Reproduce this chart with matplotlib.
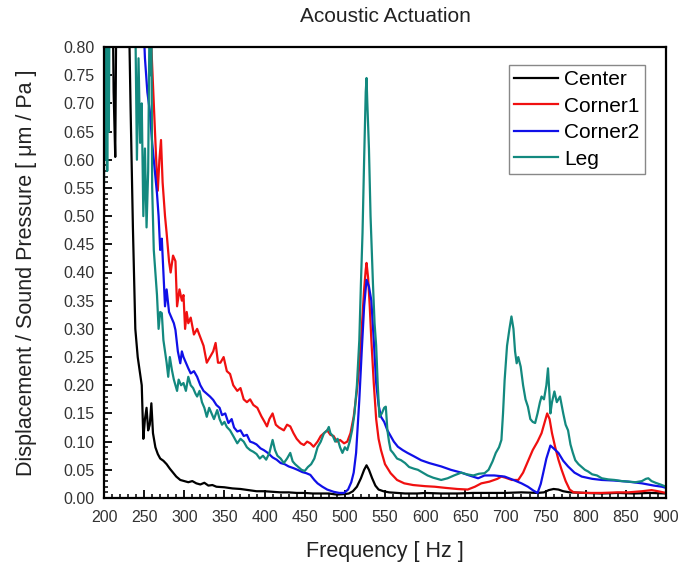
import matplotlib
matplotlib.use("Agg")
import matplotlib.pyplot as plt
from matplotlib.ticker import MultipleLocator

plt.rcParams['font.family'] = ['Liberation Sans', 'DejaVu Sans']

# ---------------- data ----------------
center_f = [200, 205, 210, 212, 214, 216, 220, 226, 230, 233, 236, 239, 242, 245, 247, 249, 251, 253, 255, 257,
            259, 261, 264, 267, 270, 274, 278, 282, 286, 290, 295, 300, 305, 310, 315, 320, 325, 330, 335, 340,
            350, 360, 370, 380, 390, 400, 410, 420, 430, 440, 450, 460, 470, 480, 490, 500, 505, 510, 515, 520,
            524, 527, 530, 534, 538, 542, 548, 555, 565, 575, 590, 600, 620, 640, 660, 680, 700, 720, 740, 748,
            754, 760, 766, 772, 780, 800, 820, 840, 860, 880, 900]
center_v = [1.0, 1.0, 1.0, 0.72, 0.605, 1.0, 1.0, 1.0, 0.95, 0.70, 0.48, 0.30, 0.25, 0.22, 0.20, 0.105, 0.14, 0.16, 0.12, 0.13,
            0.168, 0.115, 0.09, 0.078, 0.07, 0.066, 0.06, 0.052, 0.045, 0.038, 0.032, 0.03, 0.028, 0.03, 0.026, 0.024, 0.027, 0.022, 0.023, 0.02,
            0.019, 0.017, 0.016, 0.014, 0.012, 0.012, 0.011, 0.010, 0.010, 0.009, 0.009, 0.008, 0.008, 0.008, 0.006, 0.007, 0.008, 0.012, 0.02, 0.035,
            0.05, 0.058, 0.05, 0.035, 0.022, 0.015, 0.012, 0.01, 0.009, 0.008, 0.008, 0.009, 0.008, 0.008, 0.009, 0.009, 0.009, 0.010, 0.009, 0.010,
            0.014, 0.016, 0.015, 0.012, 0.010, 0.009, 0.008, 0.009, 0.008, 0.009, 0.008]

corner1_f = [250, 256, 259, 262, 265, 267, 269, 271, 273, 276, 278, 281, 283, 286, 289, 291, 294, 297, 299, 301,
             303, 305, 308, 312, 316, 320, 324, 328, 332, 336, 339, 342, 345, 349, 353, 357, 361, 366, 370, 374,
             378, 382, 386, 391, 396, 400, 403, 406, 410, 414, 418, 424, 428, 432, 436, 440, 445, 449, 453, 457,
             461, 466, 470, 474, 478, 482, 486, 490, 494, 499, 503, 507, 511, 515, 518, 521, 524, 526, 527, 529,
             531, 533, 536, 539, 542, 545, 550, 557, 565, 574, 585, 600, 612, 625, 640, 653, 662, 670, 680, 690,
             695, 700, 708, 716, 722, 728, 734, 740, 745, 749, 752, 755, 758, 762, 766, 770, 775, 780, 785, 800,
             820, 840, 853, 870, 882, 890, 900]
corner1_v = [1.0, 0.9, 0.8, 0.7, 0.6, 0.545, 0.6, 0.635, 0.56, 0.5, 0.47, 0.42, 0.40, 0.43, 0.42, 0.34, 0.37, 0.35, 0.36, 0.30,
             0.33, 0.31, 0.32, 0.29, 0.30, 0.285, 0.27, 0.24, 0.25, 0.26, 0.275, 0.24, 0.24, 0.25, 0.225, 0.22, 0.20, 0.19, 0.195, 0.175,
             0.17, 0.175, 0.165, 0.16, 0.145, 0.135, 0.127, 0.14, 0.15, 0.13, 0.125, 0.12, 0.13, 0.127, 0.115, 0.105, 0.097, 0.094, 0.10, 0.097,
             0.091, 0.10, 0.11, 0.115, 0.12, 0.112, 0.11, 0.10, 0.103, 0.097, 0.10, 0.115, 0.144, 0.19, 0.235, 0.30, 0.37, 0.405, 0.417, 0.39,
             0.34, 0.28, 0.204, 0.14, 0.105, 0.085, 0.06, 0.044, 0.032, 0.026, 0.023, 0.021, 0.02, 0.018, 0.016, 0.015, 0.02, 0.026, 0.029, 0.034,
             0.038, 0.036, 0.032, 0.032, 0.045, 0.065, 0.085, 0.10, 0.115, 0.135, 0.15, 0.14, 0.115, 0.09, 0.068, 0.05, 0.03, 0.015, 0.01, 0.009,
             0.009, 0.01, 0.01, 0.012, 0.014, 0.012, 0.009]

corner2_f = [240, 249, 251, 254, 257, 260, 262, 264, 266, 268, 270, 272, 274, 276, 278, 281, 284, 287, 289, 292,
             295, 297, 299, 302, 305, 308, 312, 316, 320, 324, 328, 332, 336, 340, 344, 347, 351, 355, 359, 362,
             366, 370, 374, 378, 382, 386, 390, 395, 399, 404, 410, 415, 420, 425, 430, 436, 441, 447, 452, 457,
             462, 466, 472, 478, 486, 493, 499, 504, 508, 511, 514, 518, 521, 524, 527, 530, 533, 536, 539, 542,
             545, 549, 553, 557, 561, 566, 572, 578, 586, 595, 605, 620, 632, 645, 655, 666, 674, 686, 699, 710,
             720, 728, 735, 740, 744, 747, 751, 756, 760, 766, 772, 778, 786, 795, 808, 820, 835, 853, 870, 885,
             895, 900]
corner2_v = [1.0, 0.85, 0.78, 0.72, 0.687, 0.63, 0.60, 0.57, 0.54, 0.50, 0.44, 0.46, 0.40, 0.34, 0.37, 0.33, 0.32, 0.31, 0.298, 0.26,
             0.239, 0.26, 0.25, 0.24, 0.23, 0.221, 0.225, 0.215, 0.20, 0.19, 0.185, 0.18, 0.174, 0.165, 0.16, 0.147, 0.15, 0.133, 0.14, 0.125,
             0.118, 0.12, 0.11, 0.112, 0.10, 0.098, 0.095, 0.088, 0.085, 0.08, 0.072, 0.068, 0.062, 0.06, 0.056, 0.053, 0.05, 0.046, 0.044, 0.041,
             0.032, 0.026, 0.02, 0.015, 0.011, 0.009, 0.009, 0.015, 0.028, 0.045, 0.08, 0.174, 0.26, 0.34, 0.387, 0.375, 0.35, 0.28, 0.204, 0.165,
             0.144, 0.135, 0.12, 0.11, 0.10, 0.091, 0.085, 0.08, 0.074, 0.067, 0.062, 0.056, 0.05, 0.045, 0.04, 0.035, 0.04, 0.04, 0.038, 0.032,
             0.026, 0.02, 0.013, 0.009, 0.025, 0.044, 0.07, 0.093, 0.088, 0.08, 0.066, 0.056, 0.045, 0.038, 0.034, 0.032, 0.031, 0.029, 0.026, 0.022,
             0.02, 0.018]

leg_f = [200, 201, 202, 203, 204, 205, 206, 207, 209, 236, 239, 241, 243, 245, 247, 249, 251, 253, 255, 257,
         258, 259, 260, 262, 264, 266, 268, 270, 272, 274, 276, 278, 280, 282, 284.6, 287, 289, 291, 293, 296,
         299, 302, 305, 308, 311, 314, 316, 319, 322, 325, 328, 331, 334, 337, 341, 344, 347, 350, 353, 357,
         361, 366, 370, 374, 378, 382, 386, 390, 394, 398, 402, 406, 410, 413, 416, 420, 424, 428, 432, 435,
         438, 442, 446, 450, 454, 458, 462, 466, 470, 474, 478, 480, 482, 485, 488, 491, 494, 497, 500, 503,
         506, 509, 512, 515, 518, 520, 522, 524, 526, 527, 528, 530, 532, 535, 537, 539, 541, 543, 546, 549,
         551, 553, 555, 557, 560, 565, 570, 575, 580, 586, 591, 597, 603, 610, 620, 628, 636, 645, 652, 660,
         667, 674, 679, 684, 688, 692, 695, 697, 699, 702, 705, 707.5, 710, 712, 714, 716, 719, 722, 725, 728,
         731, 734, 737, 740, 743, 745, 748, 751, 753, 755, 756, 758, 761, 764, 768, 772, 775, 778, 781, 784,
         787, 791, 795, 799, 803, 808, 814, 820, 828, 836, 845, 853, 862, 870, 875, 878, 882, 887, 893, 900]
leg_v = [0.56, 0.85, 0.60, 0.90, 0.58, 0.95, 0.65, 0.90, 1.0, 1.0, 0.85, 0.60, 0.78, 0.63, 0.70, 0.50, 0.62, 0.48, 0.58, 0.90,
         0.75, 0.85, 0.55, 0.44, 0.40, 0.36, 0.30, 0.33, 0.328, 0.28, 0.26, 0.24, 0.215, 0.25, 0.227, 0.21, 0.20, 0.19, 0.21, 0.20,
         0.204, 0.19, 0.215, 0.20, 0.195, 0.185, 0.18, 0.19, 0.17, 0.16, 0.144, 0.16, 0.15, 0.14, 0.156, 0.14, 0.13, 0.135, 0.126, 0.12,
         0.11, 0.097, 0.105, 0.10, 0.09, 0.085, 0.082, 0.078, 0.07, 0.075, 0.068, 0.08, 0.103, 0.085, 0.075, 0.07, 0.062, 0.07, 0.08, 0.065,
         0.06, 0.055, 0.05, 0.048, 0.055, 0.06, 0.07, 0.09, 0.10, 0.115, 0.12, 0.126, 0.115, 0.11, 0.10, 0.105, 0.09, 0.08, 0.09, 0.085,
         0.10, 0.12, 0.15, 0.20, 0.28, 0.38, 0.47, 0.60, 0.72, 0.745, 0.70, 0.62, 0.50, 0.38, 0.31, 0.27, 0.20, 0.144, 0.15, 0.16,
         0.162, 0.12, 0.10, 0.085, 0.08, 0.07, 0.067, 0.062, 0.055, 0.052, 0.05, 0.045, 0.04, 0.036, 0.032, 0.035, 0.04, 0.045, 0.042, 0.04,
         0.043, 0.044, 0.05, 0.065, 0.08, 0.09, 0.103, 0.15, 0.209, 0.27, 0.30, 0.322, 0.30, 0.26, 0.239, 0.25, 0.233, 0.20, 0.175, 0.162,
         0.14, 0.135, 0.133, 0.15, 0.17, 0.18, 0.175, 0.20, 0.23, 0.18, 0.15, 0.17, 0.189, 0.17, 0.18, 0.15, 0.13, 0.12, 0.095, 0.08,
         0.067, 0.06, 0.055, 0.05, 0.047, 0.042, 0.04, 0.035, 0.033, 0.032, 0.03, 0.029, 0.028, 0.03, 0.034, 0.035, 0.03, 0.027, 0.024, 0.02]

series_names = ["Center", "Corner1", "Corner2", "Leg"]
series_colors = ["#000000", "#f01010", "#1010e8", "#13897f"]

title_text = "Acoustic Actuation"
xlabel_text = "Frequency [ Hz ]"
ylabel_text = "Displacement / Sound Pressure [ \u03bcm / Pa ]"

# ---------------- plot ----------------
fig = plt.figure(figsize=(6.81, 5.66), dpi=100)
ax = fig.add_axes([104/681, 1-498/566, (666-104)/681, (498-47)/566])

data = [(center_f, center_v), (corner1_f, corner1_v), (corner2_f, corner2_v), (leg_f, leg_v)]
for (fx, fy), name, col in zip(data, series_names, series_colors):
    ax.plot(fx, fy, color=col, lw=1.6, label=name)

ax.set_xlim(200, 900)
ax.set_ylim(0, 0.8)
ax.xaxis.set_major_locator(MultipleLocator(50))
ax.xaxis.set_minor_locator(MultipleLocator(10))
ax.yaxis.set_major_locator(MultipleLocator(0.05))
ax.yaxis.set_minor_locator(MultipleLocator(0.01))
ax.yaxis.set_major_formatter(matplotlib.ticker.FormatStrFormatter('%.2f'))

ax.tick_params(which='major', direction='in', length=6, width=1.3, labelsize=11.5, color='black')
ax.tick_params(which='minor', direction='in', length=3, width=1.1, color='black')
ax.tick_params(axis='x', which='major', pad=9)
ax.tick_params(axis='y', which='major', pad=7)
ax.tick_params(labelcolor='#333333')
for sp in ax.spines.values():
    sp.set_linewidth(1.6)

ax.set_title(title_text, fontsize=15, pad=18, color='#222222')
ax.set_xlabel(xlabel_text, fontsize=15.5, labelpad=11, color='#222222')
ax.set_ylabel(ylabel_text, fontsize=15.5, labelpad=19, color='#222222')

leg = ax.legend(loc='upper right', bbox_to_anchor=((645-104)/562, (498-65)/451),
                borderaxespad=0, fontsize=15, frameon=True, fancybox=False,
                edgecolor='#888888', framealpha=1, handlelength=2.1, handletextpad=0.3,
                labelspacing=0.36, borderpad=0.25)
leg.get_frame().set_linewidth(1.0)

fig.savefig("out.png", dpi=100)
